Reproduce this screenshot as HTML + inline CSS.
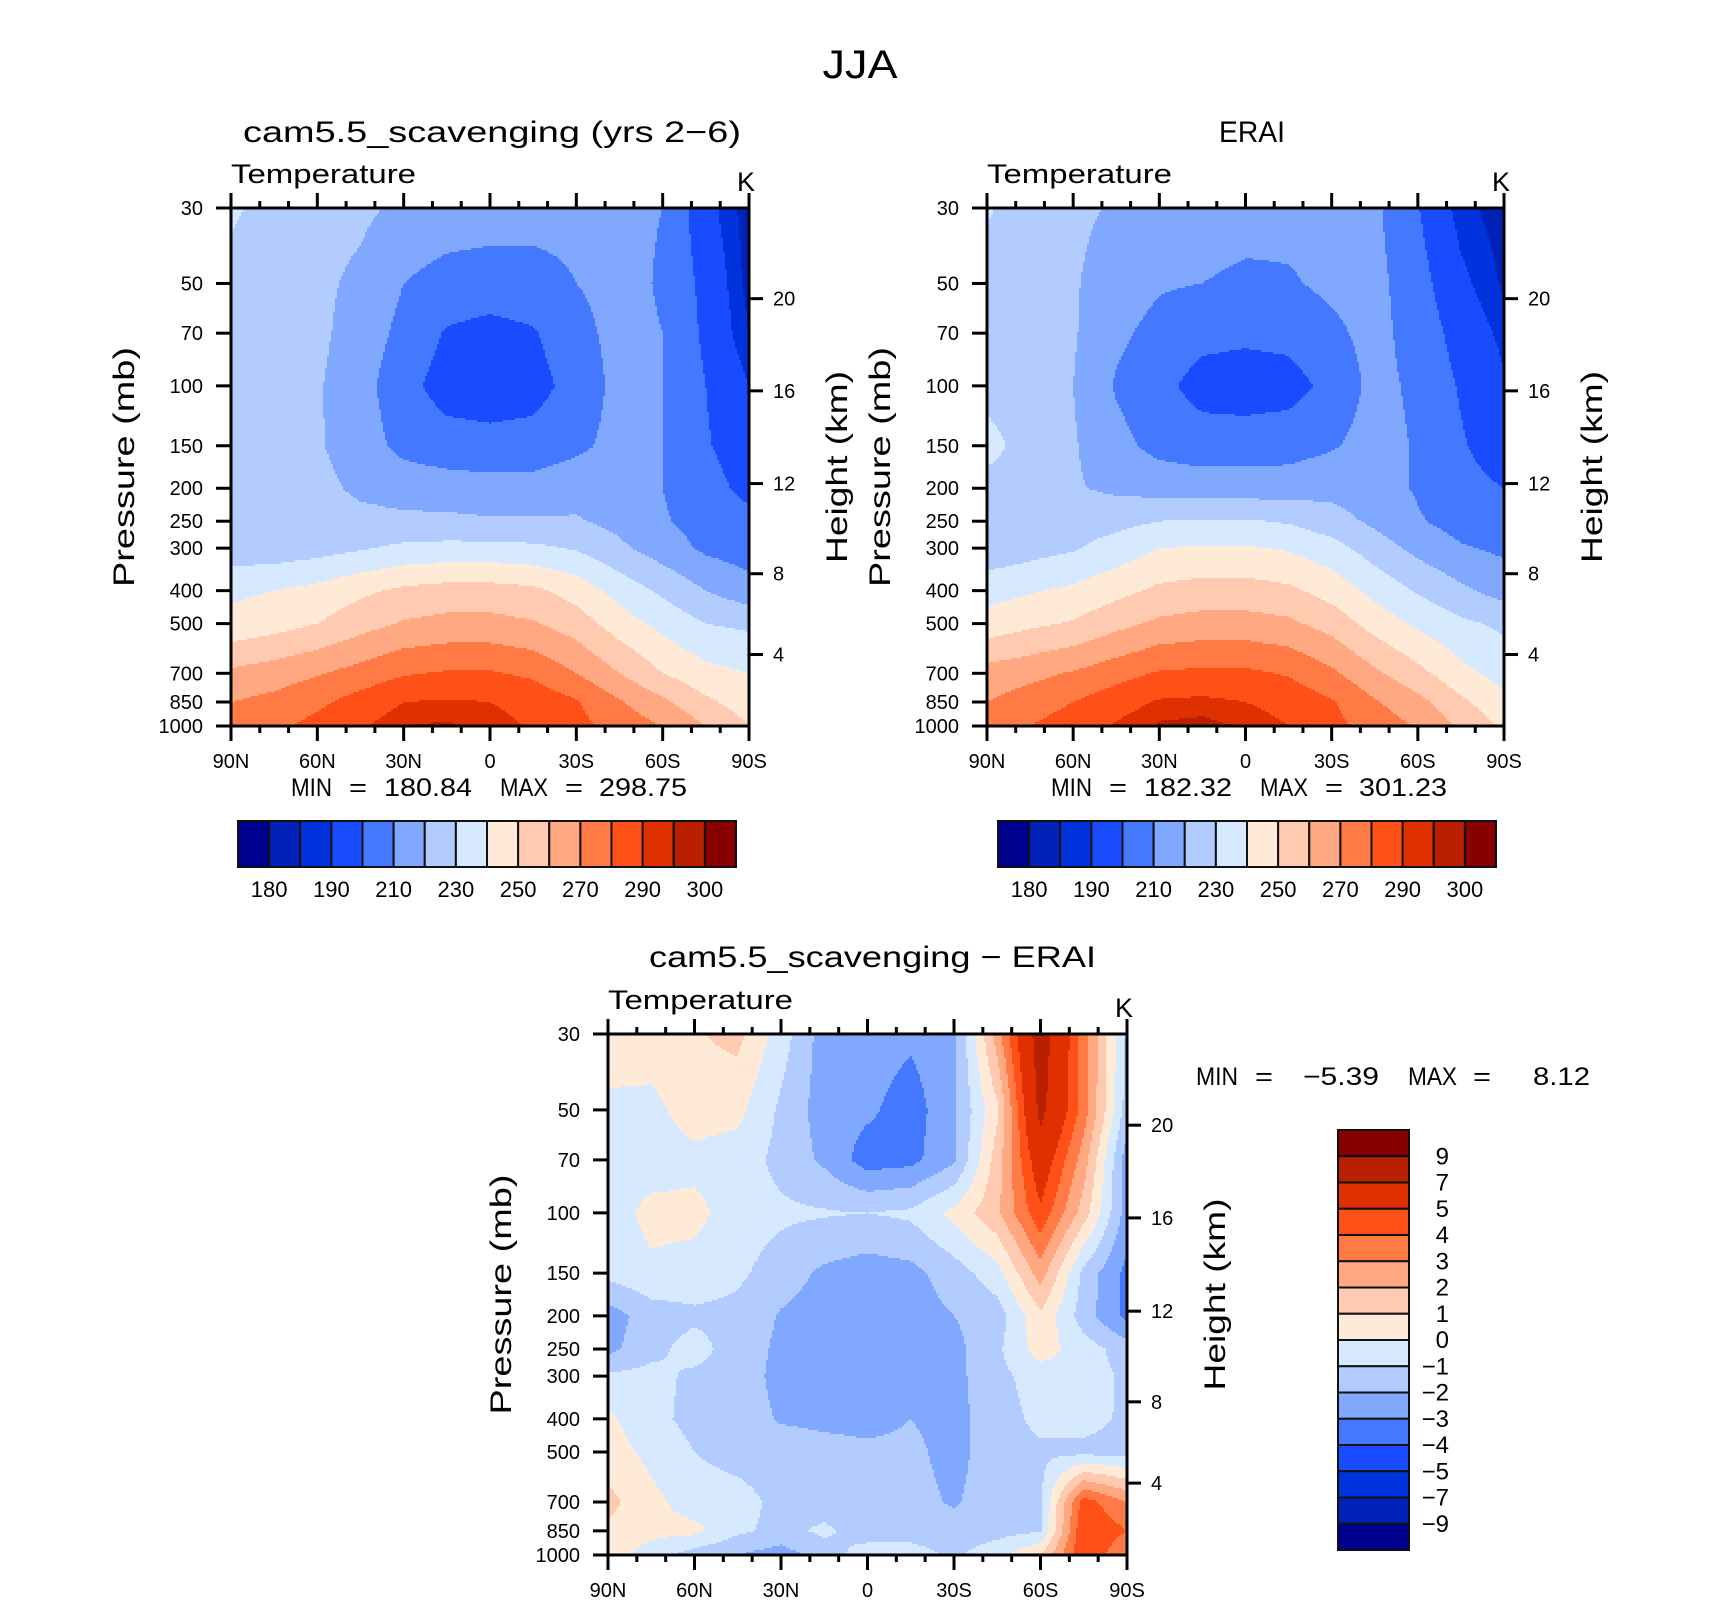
<!DOCTYPE html>
<html><head><meta charset="utf-8"><title>JJA Temperature</title>
<style>
html,body{margin:0;padding:0;background:#fff;}
svg{display:block;font-family:"Liberation Sans","DejaVu Sans",sans-serif;}
</style></head>
<body>
<svg id="fig" xmlns="http://www.w3.org/2000/svg" width="1710" height="1600" viewBox="0 0 1710 1600">
<rect x="0" y="0" width="1710" height="1600" fill="#fff"/>
<text x="860" y="78" font-size="40" text-anchor="middle" textLength="75" lengthAdjust="spacingAndGlyphs">JJA</text>
<g id="panels"></g>
</svg>
<script>
// ---------- data ----------
const latLabels = ["90N","60N","30N","0","30S","60S","90S"];
const pressures = [30,50,70,100,150,200,250,300,400,500,700,850,1000];
const pressureTickLabels = ["30","50","70","100","150","200","250","300","400","500","700","850","1000"];
const heightTickLabels = ["20","16","12","8","4"];
// columns: 90N,75N,60N,45N,30N,15N,0,15S,30S,45S,60S,75S,90S ; rows: pressures
const modelT = [
 [232,225,223,222,218,216,215,214,213,212,210,193,182],
 [226,224,222,218,210,206,205,206,210,213,209,197,183],
 [226,224,222,216,207,199,197,199,207,213,210,198,185],
 [226,224,221,214,203,196,195,196,204,213,210,200,190],
 [230,224,221,215,207,204,203,204,208,213,210,201,194],
 [226,225,223,218,216,215,214,214,216,215,210,204,197],
 [225,225,224,223,222,222,221,221,221,217,211,206,203],
 [224,224,226,229,232,233,233,232,229,222,215,208,205],
 [238,240,243,248,252,254,254,252,246,236,228,220,214],
 [243,246,250,256,261,263,263,261,255,245,237,230,228],
 [262,265,269,274,279,281,281,278,270,260,250,243,240],
 [270,273,278,284,290,291,290,287,281,271,262,252,245],
 [275,278,283,289,295,296,293,289,283,276,270,260,250]
];
const eraiT = [
 [231,225,222,219,216,215,214,213,213,212,200.5,187,182],
 [226,224,221,215,211,210,208,209,212,213,204,192,184],
 [226,224,221,212,207,203,202,203,208,213,206,196,188],
 [226,224,220,209,203,196,195,196,203,213,208,199,191],
 [234,225,221,213,207,205,205,206,209,214,209,201,195],
 [226,224,221,218,216,215,215,215,217,214,209,203,200],
 [224,225,226,227,230,231,231,229,224,218,211,206,204],
 [223,226,229,234,240,241,241,239,234,225,217,211,208],
 [236,239,242,247,252,254,254,252,246,237,229,222,216],
 [244,248,251,257,262,264,264,262,256,246,238,232,228],
 [264,267,271,276,281,282,282,279,272,262,253,243,236],
 [270,275,280,286,291,292,290,287,281,271,263,252,243],
 [275,280,285,291,296,297,294,290,283,276,269,258,248]
];
const diffT = [
 [0.5,0.6,0.9,1.3,-0.5,-2.5,-2.5,-2.8,-2.3,2.5,8,3.5,-1.2],
 [-0.2,-0.3,0.5,0.3,-1.2,-2.5,-2.8,-3.5,-2.2,0.8,7.5,3.5,-1.5],
 [-0.5,-0.5,-0.3,-0.5,-1.3,-2.2,-3.5,-3.3,-2.2,1.5,6,2.5,-2.6],
 [-0.5,0.3,0.3,-0.5,-0.8,-0.9,-1.0,-0.8,0.3,1.8,4.8,1.5,-2.5],
 [-0.7,-0.2,-0.4,-0.8,-1.5,-2.2,-2.5,-2.3,-1.5,-0.4,2.5,-1.3,-3.3],
 [-2.5,-1.5,-1.2,-1.3,-2.1,-2.5,-2.6,-2.5,-2.0,-1.5,0.8,-1.5,-3.3],
 [-2.3,-1.3,-0.6,-1.5,-2.2,-2.5,-2.6,-2.5,-2.3,-1.2,0.5,-0.5,-1.5],
 [-0.8,-0.7,-1.2,-1.5,-2.3,-2.6,-2.6,-2.5,-2.3,-1.3,-0.5,-0.5,-1.2],
 [0.2,-0.7,-1.3,-1.5,-2.1,-2.2,-2.3,-2.0,-2.3,-1.5,-0.7,-0.6,-1.2],
 [0.5,-0.3,-1.0,-1.4,-1.5,-1.7,-1.8,-1.8,-2.3,-1.5,-1.2,-1.3,-1.4],
 [1.3,0.3,-0.5,-0.6,-1.3,-1.5,-1.6,-1.7,-2.1,-1.5,-1.2,4.5,3],
 [0.8,0.3,0.3,-0.8,-1.3,-0.8,-1.5,-1.5,-1.6,-1.4,-1.1,5,4],
 [0.5,-0.5,-1.5,-2.0,-2.5,-1.5,-0.5,-0.5,-1.2,-0.3,1,5,3]
];
const levelsT = [180,185,190,200,210,220,230,240,250,260,270,280,290,295,300];
const levelsD = [-9,-7,-5,-4,-3,-2,-1,0,1,2,3,4,5,7,9];
const cbLabelsT = ["180","190","210","230","250","270","290","300"];
const cbLabelsD = ["9","7","5","4","3","2","1","0","\u22121","\u22122","\u22123","\u22124","\u22125","\u22127","\u22129"];
const colors = ["#000090","#0022B8","#0033DD","#1A4CFF","#4478FF","#80A8FF","#B3CCFF","#D7E9FF",
                "#FFEAD8","#FFCAB0","#FFA882","#FF7A45","#FF5018","#E03000","#B82000","#880000"];
// height-axis tick fractions (from top of plot)
const heightFrac = [0.175,0.353,0.532,0.706,0.862];

// ---------- helpers ----------
const NS = "http://www.w3.org/2000/svg";
const root = document.getElementById('panels');
function mk(tag, attrs, parent){
  const e = document.createElementNS(NS, tag);
  for (const k in attrs) e.setAttribute(k, attrs[k]);
  (parent||root).appendChild(e);
  return e;
}
function txt(str, attrs, parent){
  const e = mk('text', attrs, parent);
  e.textContent = str;
  return e;
}
const rowFrac = pressures.map(p => Math.log(p/pressures[0]) / Math.log(pressures[pressures.length-1]/pressures[0]));
function colorIndex(v, levels){
  let i = 0;
  while (i < levels.length && v >= levels[i]) i++;
  return i;
}
function sample(data, xf, yf){
  const nc = data[0].length;
  const cx = Math.min(Math.max(xf,0),1) * (nc-1);
  const c0 = Math.min(Math.floor(cx), nc-2), tx = cx - c0;
  let r0 = 0;
  while (r0 < rowFrac.length-2 && yf > rowFrac[r0+1]) r0++;
  const ty = Math.min(Math.max((yf - rowFrac[r0])/(rowFrac[r0+1]-rowFrac[r0]),0),1);
  const a = data[r0][c0]*(1-tx) + data[r0][c0+1]*tx;
  const b = data[r0+1][c0]*(1-tx) + data[r0+1][c0+1]*tx;
  return a*(1-ty) + b*ty;
}

function drawField(g, data, levels, x0, y0, w, h){
  const step = 2;
  for (let py = 0; py < h; py += step){
    const yf = (py + step/2)/h;
    let runStart = 0, runCi = -1;
    for (let px = 0; ; px += step){
      const end = px >= w;
      let ci = -2;
      if (!end){
        const v = sample(data, (px + step/2)/w, yf);
        ci = colorIndex(v, levels);
      }
      if (ci !== runCi){
        if (runCi >= 0){
          const r = mk('rect', {x: x0+runStart, y: y0+py, width: Math.min(px, w)-runStart + (end?0:0.4), height: Math.min(step+0.6, h-py), fill: colors[runCi]}, g);
          
          
        }
        runStart = px; runCi = ci;
      }
      if (end) break;
    }
  }
}

function drawPanel(opt){
  const g = mk('g', {});
  
  
  const {x0,y0,w,h} = opt;
  const field = mk('g', {}, g);
  
  
  drawField(field, opt.data, opt.levels, x0, y0, w, h);

  const ax = mk('g', {stroke:'#000', 'stroke-width':3, fill:'none'}, g);
  
  
  mk('rect', {x:x0, y:y0, width:w, height:h}, ax);
  for (let d = 0; d <= 18; d++){
    const x = x0 + d/18*w;
    const len = (d % 3 === 0) ? 15 : 7;
    mk('line', {x1:x, y1:y0, x2:x, y2:y0-len}, ax);
    mk('line', {x1:x, y1:y0+h, x2:x, y2:y0+h+len}, ax);
  }
  latLabels.forEach((lab, i) => {
    const t = txt(lab, {x: x0 + i/(latLabels.length-1)*w, y: y0+h+42, 'font-size':20, 'text-anchor':'middle'}, g);
    
    
  });
  pressures.forEach((p, i) => {
    const y = y0 + rowFrac[i]*h;
    mk('line', {x1:x0, y1:y, x2:x0-15, y2:y}, ax);
    const t = txt(pressureTickLabels[i], {x: x0-28, y: y+7, 'font-size':20, 'text-anchor':'end'}, g);
    
    
  });
  heightTickLabels.forEach((lab, i) => {
    const y = y0 + heightFrac[i]*h;
    mk('line', {x1:x0+w, y1:y, x2:x0+w+14, y2:y}, ax);
    const t = txt(lab, {x: x0+w+24, y: y+7, 'font-size':20}, g);
    
    
  });
  const cy = y0 + h/2;
  const pl = txt('Pressure  (mb)', {x:0, y:0, 'font-size':30, 'text-anchor':'middle', textLength:240, lengthAdjust:'spacingAndGlyphs',
     transform:`translate(${x0-97},${cy}) rotate(-90)`}, g);
  
  
  const hl = txt('Height  (km)', {x:0, y:0, 'font-size':30, 'text-anchor':'middle', textLength:192, lengthAdjust:'spacingAndGlyphs',
     transform:`translate(${x0+w+98},${cy}) rotate(-90)`}, g);
  
  
  const tt = txt('Temperature', {x:x0, y:y0-25, 'font-size':27, textLength:185, lengthAdjust:'spacingAndGlyphs'}, g);
  
  
  const kt = txt('K', {x:x0+w-12, y:y0-17, 'font-size':27}, g);
  
  
  const ti = txt(opt.title, {x:opt.titleX, y:opt.titleY, 'font-size':30, textLength:opt.titleLen, lengthAdjust:'spacingAndGlyphs'}, g);
  
  
  return g;
}

function minmaxText(g, items, y, size){
  items.forEach(it => {
    const t = txt(it[0], {x:it[1], y:y, 'font-size':size, textLength:it[2]-it[1], lengthAdjust:'spacingAndGlyphs'}, g);
    
    
  });
}
function hColorbar(x0, y0, w, h, labels, name){
  const g = mk('g', {});
  
  
  const bw = w / colors.length;
  colors.forEach((c, i) => {
    const r = mk('rect', {x:x0+i*bw, y:y0, width:bw, height:h, fill:c, stroke:'#111', 'stroke-width':2}, g);
    
    
  });
  labels.forEach((lab, k) => {
    const t = txt(lab, {x:x0+(2*k+1)*bw, y:y0+h+30, 'font-size':22, 'text-anchor':'middle'}, g);
    
    
  });
}
function vColorbar(x0, y0, w, h, labels, name){
  const g = mk('g', {});
  
  
  const bh = h / colors.length;
  colors.forEach((c, i) => {
    const r = mk('rect', {x:x0, y:y0+i*bh, width:w, height:bh, fill:colors[colors.length-1-i], stroke:'#111', 'stroke-width':2}, g);
    
    
  });
  labels.forEach((lab, k) => {
    const t = txt(lab, {x:x0+w+40, y:y0+(k+1)*bh+8, 'font-size':24, 'text-anchor':'end'}, g);
    
    
  });
}

// ---------- panels ----------
const p1 = drawPanel({name:'model-panel', x0:231, y0:208, w:518, h:518, data:modelT, levels:levelsT,
  title:'cam5.5_scavenging (yrs 2\u22126)', titleX:243, titleY:142, titleLen:498});
minmaxText(p1, [["MIN",291,332],["=",349,367],["180.84",384,472],["MAX",500,548],["=",565,583],["298.75",599,687]], 796, 25);
hColorbar(238, 821, 498, 46, cbLabelsT, 'model-colorbar');

const p2 = drawPanel({name:'erai-panel', x0:987, y0:208, w:517, h:518, data:eraiT, levels:levelsT,
  title:'ERAI', titleX:1219, titleY:142, titleLen:66});
minmaxText(p2, [["MIN",1051,1092],["=",1109,1127],["182.32",1144,1232],["MAX",1260,1308],["=",1325,1343],["301.23",1359,1447]], 796, 25);
hColorbar(998, 821, 498, 46, cbLabelsT, 'erai-colorbar');

const p3 = drawPanel({name:'difference-panel', x0:608, y0:1034, w:519, h:521, data:diffT, levels:levelsD,
  title:'cam5.5_scavenging \u2212 ERAI', titleX:649, titleY:967, titleLen:447});
minmaxText(p3, [["MIN",1196,1238],["=",1255,1273],["\u22125.39",1303,1379],["MAX",1408,1457],["=",1473,1491],["8.12",1533,1590]], 1085, 25);
vColorbar(1338, 1130, 71, 420, cbLabelsD, 'difference-colorbar');
</script>
</body></html>
